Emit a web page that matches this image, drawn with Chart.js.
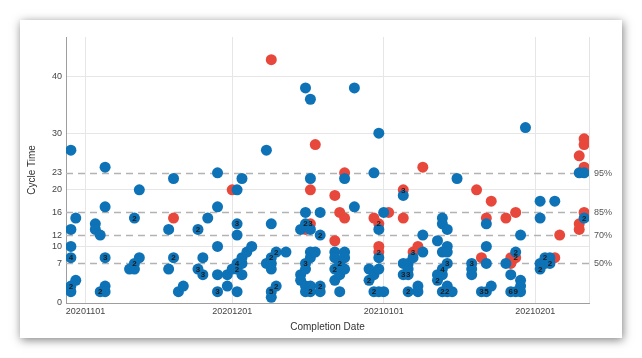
<!DOCTYPE html>
<html>
<head>
<meta charset="utf-8">
<script src="https://cdn.jsdelivr.net/npm/chart.js@4.4.1/dist/chart.umd.min.js"></script>
<style>
  html, body { margin: 0; padding: 0; background: #fff; }
  .card {
    position: absolute; left: 20px; top: 20px; width: 602px; height: 318px;
    background: #fff; box-shadow: 1px 2px 9px rgba(0, 0, 0, 0.5);
  }
  canvas { display: block; }
</style>
</head>
<body>
<div class="card"><canvas id="cycleChart" width="602" height="318"></canvas></div>
<script>
// x values are days counted from startDate
const startDate = '20201101';
const xTickLabels = ['20201101', '20201201', '20210101', '20210201'];
const yTicks = [0, 7, 10, 12, 16, 20, 23, 30, 40];
const percentileValues = [7, 12, 16, 23];
const percentileLabels = ['50%', '70%', '85%', '95%'];

// [day, cycle time, items on that spot]
const blueItems = [
  [-3, 27, 1], [-3, 13, 1], [-3, 10, 1], [-3, 8, 4], [-3, 3, 2], [-3, 2, 1],
  [-2, 15, 1], [-2, 4, 1],
  [2, 14, 1], [2, 13, 1], [3, 12, 1], [3, 2, 2],
  [4, 24, 1], [4, 17, 1], [4, 8, 3], [4, 3, 1], [4, 2, 1],
  [9, 6, 1], [10, 15, 2], [10, 7, 2], [10, 6, 1], [11, 20, 1], [11, 8, 1],
  [17, 13, 1], [17, 6, 1], [18, 22, 1], [18, 8, 2], [19, 2, 1], [20, 3, 1],
  [23, 13, 2], [23, 6, 3], [24, 8, 1], [24, 5, 3], [25, 15, 1],
  [27, 23, 1], [27, 17, 1], [27, 10, 1], [27, 5, 1], [27, 2, 3],
  [29, 5, 1], [29, 3, 1], [30, 6, 1],
  [31, 20, 1], [31, 14, 3], [31, 12, 1], [31, 7, 4], [31, 6, 2], [31, 2, 1],
  [32, 22, 1], [32, 8, 1], [32, 7, 1], [32, 5, 1], [33, 9, 1], [34, 10, 1],
  [37, 27, 1], [37, 7, 1],
  [38, 14, 1], [38, 8, 2], [38, 7, 1], [38, 6, 1], [38, 2, 5], [38, 1, 1],
  [39, 9, 2], [39, 3, 2], [41, 9, 1],
  [44, 13, 1], [44, 5, 1], [44, 4, 1],
  [45, 38, 1], [45, 16, 1], [45, 14, 2], [45, 7, 3], [45, 6, 1], [45, 3, 1], [45, 2, 1],
  [46, 36, 1], [46, 22, 1], [46, 13, 1], [46, 9, 1], [46, 8, 1], [46, 3, 1], [46, 2, 2],
  [47, 9, 1], [48, 16, 1], [48, 12, 2], [48, 3, 2], [48, 2, 1],
  [51, 9, 1], [51, 8, 1], [51, 6, 2], [51, 4, 1],
  [52, 7, 2], [52, 6, 1], [52, 5, 1], [52, 2, 1],
  [53, 22, 1], [53, 9, 1], [53, 8, 1], [53, 6, 1],
  [55, 38, 1], [55, 17, 1], [58, 6, 1], [58, 4, 2],
  [59, 23, 1], [59, 5, 1], [59, 2, 2],
  [60, 30, 1], [60, 13, 1], [60, 8, 1], [60, 6, 1], [60, 2, 1], [61, 16, 1], [61, 2, 1],
  [65, 19, 1], [65, 7, 1], [65, 5, 3], [66, 7, 1], [66, 6, 1], [66, 5, 3], [66, 2, 2],
  [67, 8, 1], [68, 3, 1], [68, 2, 1], [69, 12, 1], [69, 9, 1],
  [72, 11, 1], [72, 5, 1], [72, 4, 2],
  [73, 15, 1], [73, 14, 1], [73, 9, 1], [73, 6, 4], [73, 5, 1], [73, 2, 2],
  [74, 13, 1], [74, 10, 1], [74, 9, 1], [74, 7, 3], [74, 3, 1], [74, 2, 2],
  [75, 2, 1], [76, 22, 1], [79, 7, 3], [79, 6, 1], [79, 5, 1], [81, 2, 3],
  [82, 14, 1], [82, 10, 1], [82, 7, 1], [82, 2, 5], [83, 3, 1], [86, 7, 1],
  [87, 5, 1], [87, 2, 6], [88, 9, 2], [88, 2, 9],
  [89, 12, 1], [89, 4, 1], [89, 3, 1], [89, 2, 1], [90, 31, 1],
  [93, 18, 1], [93, 15, 1], [93, 7, 1], [93, 6, 2], [94, 8, 2], [94, 7, 1],
  [95, 8, 1], [95, 7, 2], [96, 18, 1],
  [101, 23, 1], [102, 23, 1], [102, 15, 2]
];

const redItems = [
  [18, 15, 1], [30, 20, 1], [38, 43, 1], [45, 13, 1], [46, 20, 1], [46, 14, 3], [47, 28, 1],
  [51, 19, 1], [51, 11, 1], [52, 16, 1], [53, 23, 1], [53, 15, 1],
  [59, 15, 1], [60, 14, 2], [60, 10, 1], [60, 9, 2], [62, 16, 1],
  [65, 20, 3], [65, 15, 1], [67, 9, 3], [68, 10, 1], [69, 24, 1],
  [80, 20, 1], [81, 8, 1], [82, 15, 1], [83, 18, 1], [86, 15, 1],
  [87, 8, 1], [87, 7, 1], [88, 16, 1], [88, 8, 2], [96, 8, 1], [97, 12, 1],
  [101, 26, 1], [101, 14, 1], [101, 13, 1],
  [102, 29, 1], [102, 28, 1], [102, 24, 1], [102, 16, 1]
];

function toUtc(s) {
  return Date.UTC(+s.slice(0, 4), +s.slice(4, 6) - 1, +s.slice(6, 8));
}
const dayMs = 86400000;
const xTickDays = xTickLabels.map(s => Math.round((toUtc(s) - toUtc(startDate)) / dayMs));

const toPoints = items => items.map(([d, v, n]) => ({ x: d, y: v, n: n }));

// dashed percentile lines with their labels on the right
const percentilePlugin = {
  id: 'percentiles',
  beforeDatasetsDraw(chart) {
    const { ctx, chartArea } = chart;
    const y = chart.scales.y;
    ctx.save();
    ctx.strokeStyle = '#e3e3e3';
    ctx.lineWidth = 1;
    ctx.beginPath();
    ctx.moveTo(chartArea.right + 0.5, chartArea.top);
    ctx.lineTo(chartArea.right + 0.5, chartArea.bottom);
    ctx.stroke();
    percentileValues.forEach((v, i) => {
      const py = Math.round(y.getPixelForValue(v)) + 0.5;
      ctx.strokeStyle = '#b3b3b3';
      ctx.lineWidth = 1.5;
      ctx.setLineDash([7, 5]);
      ctx.beginPath();
      ctx.moveTo(chartArea.left, py);
      ctx.lineTo(chartArea.right, py);
      ctx.stroke();
      ctx.setLineDash([]);
      ctx.fillStyle = '#555';
      ctx.font = '9px "Liberation Sans", Arial, sans-serif';
      ctx.textAlign = 'left';
      ctx.textBaseline = 'middle';
      ctx.fillText(percentileLabels[i], chartArea.right + 5, py);
    });
    ctx.restore();
  }
};

// small count written inside stacked dots
const countPlugin = {
  id: 'counts',
  afterDatasetsDraw(chart) {
    const { ctx } = chart;
    ctx.save();
    ctx.font = 'bold 8px "Liberation Sans", Arial, sans-serif';
    ctx.fillStyle = '#1b1b1b';
    ctx.textAlign = 'center';
    ctx.textBaseline = 'middle';
    chart.data.datasets.forEach((ds, di) => {
      const meta = chart.getDatasetMeta(di);
      meta.data.forEach((el, i) => {
        const n = ds.data[i].n;
        if (n > 1) ctx.fillText(String(n), el.x, el.y + 0.5);
      });
    });
    ctx.restore();
  }
};

Chart.defaults.font.family = '"Liberation Sans", Arial, sans-serif';
Chart.defaults.font.size = 9;
Chart.defaults.color = '#444';

new Chart(document.getElementById('cycleChart'), {
  type: 'scatter',
  data: {
    datasets: [
      {
        label: 'Items',
        data: toPoints(blueItems),
        backgroundColor: '#0d72b6',
        borderWidth: 0,
        pointRadius: 5.5
      },
      {
        label: 'Late items',
        data: toPoints(redItems),
        backgroundColor: '#e8483b',
        borderWidth: 0,
        pointRadius: 5.5
      }
    ]
  },
  options: {
    responsive: false,
    animation: false,
    devicePixelRatio: 1,
    layout: { padding: { top: 17, right: 33, left: 0, bottom: 0 } },
    plugins: {
      legend: { display: false },
      tooltip: { enabled: false }
    },
    scales: {
      x: {
        type: 'linear',
        min: -4,
        max: 103,
        afterFit: scale => { scale.height = 35; },
        afterBuildTicks: scale => { scale.ticks = xTickDays.map(v => ({ value: v })); },
        ticks: {
          padding: 3,
          maxRotation: 0,
          callback: (v, i) => xTickLabels[i]
        },
        grid: { color: '#e6e6e6', drawTicks: false },
        border: { color: '#9e9e9e' },
        title: {
          display: true,
          text: 'Completion Date',
          font: { size: 10 },
          color: '#333',
          padding: { top: 0, bottom: 5 }
        }
      },
      y: {
        min: 0,
        max: 47,
        afterFit: scale => { scale.width = 46; },
        afterBuildTicks: scale => { scale.ticks = yTicks.map(v => ({ value: v })); },
        ticks: { padding: 4 },
        grid: {
          drawTicks: false,
          color: c => (c.tick && c.tick.value % 10 === 0 && c.tick.value > 0) ? '#e6e6e6' : 'rgba(0,0,0,0)'
        },
        border: { color: '#9e9e9e' },
        title: {
          display: true,
          text: 'Cycle Time',
          font: { size: 10 },
          color: '#333',
          padding: { top: 6, bottom: 0 }
        }
      }
    }
  },
  plugins: [percentilePlugin, countPlugin]
});
</script>
</body>
</html>
